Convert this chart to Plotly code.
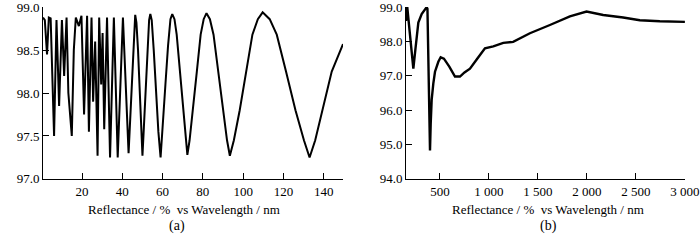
import plotly.graph_objects as go

# ---- Panel (a): reflectance vs wavelength (nm)
wl_a = [0.6, 1.5, 2.6, 3.5, 4.4, 6.1, 7.3, 8.6, 10.0, 11.1, 12.3, 13.2, 14.9, 15.9, 16.9,
        18.4, 19.7, 21.0, 22.5, 23.4, 24.7, 25.5, 26.5, 27.7, 28.5, 29.5, 30.2, 31.0, 32.4,
        33.9, 35.8, 37.7, 40.3, 43.1, 46.4, 47.0, 47.8, 48.6, 49.4, 50.0, 50.7, 51.6, 52.5,
        53.3, 53.9, 54.6, 55.6, 56.7, 57.9, 59.0, 60.1, 61.4, 62.7, 63.9, 64.8, 65.9, 67.0,
        68.6, 70.1, 71.4, 72.3, 73.4, 75.1, 77.0, 78.9, 80.4, 81.8, 83.5, 85.3, 87.6, 89.9,
        92.0, 93.4, 95.4, 98.3, 101.5, 104.6, 107.3, 109.7, 113.2, 116.7, 121.3, 126.0, 130.2,
        133.0, 135.8, 139.3, 144.0, 149.6]
refl_a = [98.88, 98.85, 98.45, 98.88, 98.87, 97.50, 98.85, 97.85, 98.85, 98.20, 98.88, 98.00,
          97.50, 98.50, 98.88, 98.78, 98.90, 97.75, 98.90, 97.55, 98.88, 97.90, 98.60, 97.27,
          98.88, 98.10, 98.70, 97.58, 98.88, 97.25, 98.88, 97.25, 98.88, 97.30, 98.91, 98.82,
          98.50, 98.00, 97.55, 97.27, 97.60, 98.10, 98.55, 98.85, 98.92, 98.85, 98.50, 98.00,
          97.55, 97.25, 97.60, 98.10, 98.55, 98.86, 98.92, 98.86, 98.68, 98.25, 97.80, 97.45,
          97.28, 97.45, 97.80, 98.25, 98.68, 98.86, 98.93, 98.86, 98.68, 98.25, 97.80, 97.45,
          97.27, 97.45, 97.80, 98.25, 98.68, 98.86, 98.94, 98.86, 98.68, 98.25, 97.80, 97.45,
          97.25, 97.45, 97.80, 98.25, 98.57]

# ---- Panel (b)
wl_b = [153, 166, 190, 210, 228, 250, 279, 313, 340, 364, 372, 398, 405, 415, 432, 449, 483,
        507, 540, 595, 653, 704, 750, 806, 880, 959, 1044, 1146, 1247, 1418, 1622, 1826, 1996,
        2166, 2370, 2540, 2744, 3000]
refl_b = [98.60, 99.00, 98.30, 97.70, 97.21, 97.80, 98.55, 98.80, 98.92, 99.00, 98.95, 94.83,
          95.60, 96.30, 96.78, 97.12, 97.41, 97.54, 97.50, 97.27, 96.98, 96.98, 97.10, 97.21,
          97.50, 97.80, 97.86, 97.96, 97.99, 98.24, 98.48, 98.73, 98.87, 98.77, 98.70, 98.62,
          98.59, 98.57]

ticks_a_x = [20, 40, 60, 80, 100, 120, 140]
ticks_a_y = [97.0, 97.5, 98.0, 98.5, 99.0]
ticks_b_x = [500, 1000, 1500, 2000, 2500, 3000]
ticks_b_xtext = ["500", "1 000", "1 500", "2 000", "2 500", "3 000"]
ticks_b_y = [94.0, 95.0, 96.0, 97.0, 98.0, 99.0]

W, H = 700, 240
FONT = "Liberation Serif, Times New Roman, DejaVu Serif, serif"

fig = go.Figure()
fig.add_trace(go.Scatter(x=wl_a, y=refl_a, mode="lines", line=dict(color="black", width=2),
                         xaxis="x", yaxis="y", showlegend=False, hoverinfo="skip"))
fig.add_trace(go.Scatter(x=wl_b, y=refl_b, mode="lines", line=dict(color="black", width=2.4),
                         xaxis="x2", yaxis="y2", showlegend=False, hoverinfo="skip"))

ydom = [1 - 179 / H, 1 - 7 / H]
axis_common = dict(showgrid=False, zeroline=False, showline=True, linecolor="black", linewidth=1,
                   ticks="inside", ticklen=6, tickcolor="black", tickwidth=1,
                   ticklabeloverflow="allow", automargin=False,
                   tickfont=dict(family=FONT, size=13, color="black"))

fig.update_layout(
    width=W, height=H, margin=dict(l=0, r=0, t=0, b=0),
    paper_bgcolor="white", plot_bgcolor="white",
    font=dict(family=FONT, color="black"),
    xaxis=dict(domain=[43 / W, 343 / W], range=[0.6, 149.6], tickvals=ticks_a_x,
               anchor="y", **axis_common),
    yaxis=dict(domain=ydom, range=[96.999, 99.002], tickvals=ticks_a_y, tickformat=".1f",
               anchor="x", **axis_common),
    xaxis2=dict(domain=[406 / W, 685 / W], range=[153, 3001], tickvals=ticks_b_x,
                ticktext=ticks_b_xtext, anchor="y2", **axis_common),
    yaxis2=dict(domain=ydom, range=[93.998, 99.004], tickvals=ticks_b_y, tickformat=".1f",
                anchor="x2", **axis_common),
)

title_txt = "Reflectance / %\u00a0 vs Wavelength / nm"
for cx, lab in [(184, "(a)"), (548, "(b)")]:
    fig.add_annotation(x=cx / W, y=1 - 209 / H, xref="paper", yref="paper", text=title_txt,
                       showarrow=False, xanchor="center", yanchor="middle",
                       font=dict(family=FONT, size=13, color="black"))
    fig.add_annotation(x=cx / W - 7 / W if lab == "(a)" else cx / W, y=1 - 226 / H,
                       xref="paper", yref="paper", text=lab, showarrow=False,
                       xanchor="center", yanchor="middle",
                       font=dict(family=FONT, size=14, color="black"))

fig.write_html("out.html", config={"displayModeBar": False},
               post_script="document.body.style.margin='0';document.body.style.overflow='hidden';")
